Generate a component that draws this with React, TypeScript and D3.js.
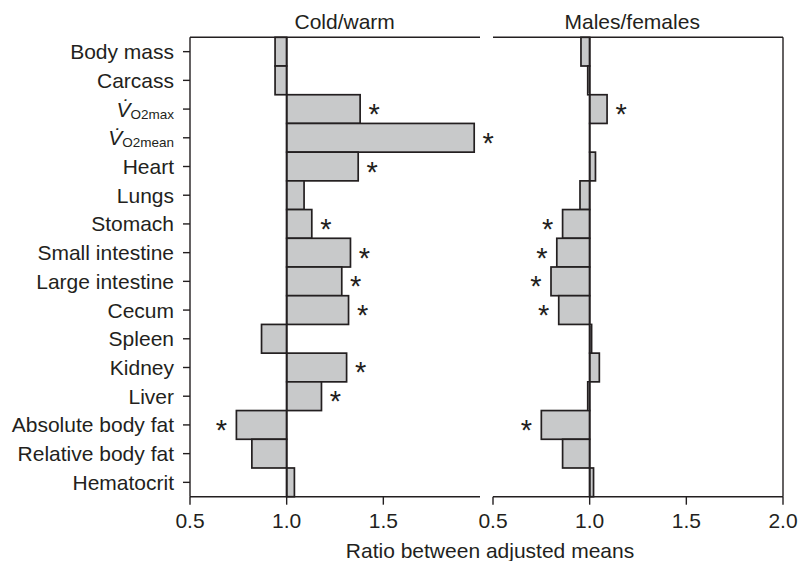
import React from "react";
import * as d3 from "d3";

const categories = [
  "Body mass",
  "Carcass",
  "VO2max",
  "VO2mean",
  "Heart",
  "Lungs",
  "Stomach",
  "Small intestine",
  "Large intestine",
  "Cecum",
  "Spleen",
  "Kidney",
  "Liver",
  "Absolute body fat",
  "Relative body fat",
  "Hematocrit",
];

const coldWarm = [0.94, 0.94, 1.38, 1.97, 1.37, 1.09, 1.13, 1.33, 1.285, 1.32, 0.87, 1.31, 1.18, 0.74, 0.82, 1.04];
const coldWarmSig = [false, false, true, true, true, false, true, true, true, true, false, true, true, true, false, false];

const malesFemales = [0.955, 0.99, 1.09, 1.0, 1.03, 0.95, 0.86, 0.83, 0.8, 0.84, 1.01, 1.05, 0.99, 0.75, 0.86, 1.02];
const malesFemalesSig = [false, false, true, false, false, false, true, true, true, true, false, false, false, true, false, false];

const leftTicks = [0.5, 1.0, 1.5];
const rightTicks = [0.5, 1.0, 1.5, 2.0];

const W = 800;
const H = 561;
const top = 37.3;
const bottom = 496.7;
const ink = "#231f20";
const fill = "#c8c9ca";
const font = "'Liberation Sans', Arial, Helvetica, sans-serif";
const fs = 21;

const y = d3.scaleBand<string>().domain(categories).range([top, bottom]).padding(0);
const xLeft = d3.scaleLinear().domain([0.5, 2.0]).range([190, 480]);
const xRight = d3.scaleLinear().domain([0.5, 2.0]).range([493, 783]);

function Label({ name }: { name: string }) {
  const cy = (y(name) as number) + y.bandwidth() / 2;
  if (name.startsWith("VO2")) {
    return (
      <text x={174} y={cy + 7.5} textAnchor="end" fontSize={fs} fill={ink} fontFamily={font}>
        <tspan fontStyle="italic">{"V\u0307"}</tspan>
        <tspan fontSize={13.5} dy={2}>{name.slice(1)}</tspan>
      </text>
    );
  }
  return (
    <text x={174} y={cy + 7.5} textAnchor="end" fontSize={fs} fill={ink} fontFamily={font}>
      {name}
    </text>
  );
}

function Panel({
  x,
  values,
  sig,
  ticks,
}: {
  x: d3.ScaleLinear<number, number>;
  values: number[];
  sig: boolean[];
  ticks: number[];
}) {
  const x0 = x(1);
  return (
    <g>
      {categories.map((c, i) => {
        const v = values[i];
        const y0 = y(c) as number;
        const xa = Math.min(x(v), x0);
        const xb = Math.max(x(v), x0);
        return (
          <rect
            key={c}
            x={xa}
            y={y0}
            width={Math.max(xb - xa, 0.01)}
            height={y.bandwidth()}
            fill={fill}
            stroke={ink}
            strokeWidth={1.7}
          />
        );
      })}
      <line x1={x0} x2={x0} y1={top} y2={bottom} stroke={ink} strokeWidth={1.7} />
      {categories.map((c, i) => {
        if (!sig[i]) return null;
        const v = values[i];
        const cy = (y(c) as number) + y.bandwidth() / 2;
        const ax = v >= 1 ? x(v) + 14 : x(v) - 15;
        return (
          <text key={c} x={ax} y={cy + 15} textAnchor="middle" fontSize={29} fill={ink} fontFamily={font}>
            *
          </text>
        );
      })}
      <line x1={x.range()[0]} x2={x.range()[1]} y1={top} y2={top} stroke={ink} strokeWidth={1.4} />
      <line x1={x.range()[0]} x2={x.range()[1]} y1={bottom} y2={bottom} stroke={ink} strokeWidth={1.4} />
      {ticks.map((t) => (
        <g key={t} transform={`translate(${x(t)},0)`}>
          <line y1={bottom} y2={bottom + 8} stroke={ink} strokeWidth={1.4} />
          <text y={bottom + 31} textAnchor="middle" fontSize={fs} fill={ink} fontFamily={font}>
            {t.toFixed(1)}
          </text>
        </g>
      ))}
    </g>
  );
}

export default function App() {
  return (
    <svg
      width={W}
      height={H}
      style={{ position: "absolute", left: 0, top: 0, background: "#fff" }}
    >
      <rect width={W} height={H} fill="#fff" />
      <Panel x={xLeft} values={coldWarm} sig={coldWarmSig} ticks={leftTicks} />
      <Panel x={xRight} values={malesFemales} sig={malesFemalesSig} ticks={rightTicks} />
      {/* left axis */}
      <line x1={190} x2={190} y1={top} y2={bottom} stroke={ink} strokeWidth={1.4} />
      {categories.map((c) => {
        const cy = (y(c) as number) + y.bandwidth() / 2;
        return <line key={c} x1={183} x2={190} y1={cy} y2={cy} stroke={ink} strokeWidth={1.4} />;
      })}
      {categories.map((c) => (
        <Label key={c} name={c} />
      ))}
      {/* right border */}
      <line x1={783} x2={783} y1={top} y2={bottom} stroke={ink} strokeWidth={1.4} />
      <text x={xLeft(1.3)} y={29} textAnchor="middle" fontSize={fs} fill={ink} fontFamily={font}>
        Cold/warm
      </text>
      <text x={xRight(1.22)} y={29} textAnchor="middle" fontSize={fs} fill={ink} fontFamily={font}>
        Males/females
      </text>
      <text x={490} y={558} textAnchor="middle" fontSize={fs} fill={ink} fontFamily={font}>
        Ratio between adjusted means
      </text>
    </svg>
  );
}
